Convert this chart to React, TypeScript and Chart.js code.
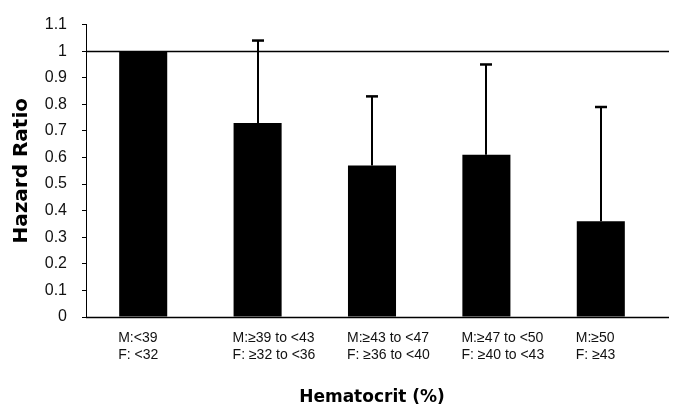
import React, { useEffect, useRef } from "react";
import { Chart, registerables } from "chart.js";

Chart.register(...registerables);

const maleLabels = ["M:<39", "M:≥39 to <43", "M:≥43 to <47", "M:≥47 to <50", "M:≥50"];
const femaleLabels = ["F: <32", "F: ≥32 to <36", "F: ≥36 to <40", "F: ≥40 to <43", "F: ≥43"];
const hazardRatios = [1.0, 0.73, 0.57, 0.61, 0.36];
const upperCI = [null, 1.04, 0.83, 0.95, 0.79];
const referenceValue = 1;
const yMin = 0;
const yMax = 1.1;
const yStep = 0.1;

const errorBarPlugin = {
  id: "errorBars",
  afterDatasetsDraw(chart: any) {
    const { ctx, chartArea } = chart;
    const y = chart.scales.y;
    const meta = chart.getDatasetMeta(0);
    ctx.save();
    ctx.strokeStyle = "#000";
    // reference line at HR = 1 and extended baseline
    ctx.lineWidth = 1.5;
    const yRef = Math.round(y.getPixelForValue(referenceValue)) + 0.5;
    ctx.beginPath();
    ctx.moveTo(chartArea.left, yRef);
    ctx.lineTo(chart.width - 8, yRef);
    ctx.stroke();
    const yBase = Math.round(y.getPixelForValue(yMin)) + 0.5;
    ctx.beginPath();
    ctx.moveTo(chartArea.left, yBase);
    ctx.lineTo(chart.width - 8, yBase);
    ctx.stroke();
    // error bars
    meta.data.forEach((bar: any, i: number) => {
      const up = upperCI[i];
      if (up == null) return;
      const x = Math.round(bar.x);
      const yTop = y.getPixelForValue(up);
      const yBar = y.getPixelForValue(hazardRatios[i]);
      ctx.lineWidth = 2;
      ctx.beginPath();
      ctx.moveTo(x, yBar);
      ctx.lineTo(x, yTop);
      ctx.stroke();
      ctx.lineWidth = 2.5;
      ctx.beginPath();
      ctx.moveTo(x - 6, yTop);
      ctx.lineTo(x + 6, yTop);
      ctx.stroke();
    });
    ctx.restore();
  },
};

export default function App() {
  const ref = useRef<HTMLCanvasElement | null>(null);

  useEffect(() => {
    document.body.style.margin = "0";
    const canvas = ref.current;
    if (!canvas) return;
    const labels = maleLabels.map((m, i) => [m, femaleLabels[i]]);
    const chart = new Chart(canvas, {
      type: "bar",
      data: {
        labels,
        datasets: [
          {
            data: hazardRatios,
            backgroundColor: "#000",
            borderWidth: 0,
            categoryPercentage: 1,
            barPercentage: 0.42,
          },
        ],
      },
      options: {
        responsive: false,
        animation: false,
        devicePixelRatio: 1,
        layout: { padding: { top: 23, right: 19, bottom: 0, left: 0 } },
        plugins: {
          legend: { display: false },
          tooltip: { enabled: false },
        },
        scales: {
          x: {
            grid: { display: false, drawTicks: false },
            border: { display: true, color: "#000", width: 1 },
            ticks: {
              autoSkip: false,
              maxRotation: 0,
              minRotation: 0,
              align: "start",
              labelOffset: -25,
              padding: 13,
              color: "#111",
              font: { family: "'Liberation Sans', Arial, sans-serif", size: 14, lineHeight: 1.2 },
            },
            title: {
              display: true,
              text: "Hematocrit (%)",
              color: "#000",
              font: { family: "'DejaVu Sans', sans-serif", size: 17, weight: "bold", lineHeight: 1 },
              padding: { top: 0, bottom: 2 },
            },
            afterFit: (scale: any) => {
              scale.height = 91;
            },
          },
          y: {
            min: yMin,
            max: yMax,
            grid: {
              display: true,
              drawOnChartArea: false,
              drawTicks: true,
              tickLength: 4,
              color: "#000",
            },
            border: { display: true, color: "#000", width: 1 },
            ticks: {
              stepSize: yStep,
              padding: 15,
              color: "#111",
              font: { family: "'Liberation Sans', Arial, sans-serif", size: 16 },
              callback: (v: any) => String(Number(Number(v).toFixed(1))),
            },
            title: {
              display: true,
              text: "Hazard Ratio",
              color: "#000",
              font: { family: "'DejaVu Sans', sans-serif", size: 20, weight: "bold", lineHeight: 1 },
              padding: { top: 12, bottom: 0 },
            },
            afterFit: (scale: any) => {
              scale.width = 86;
            },
          },
        },
      },
      plugins: [errorBarPlugin],
    });
    return () => chart.destroy();
  }, []);

  return <canvas ref={ref} width={677} height={408} style={{ display: "block" }} />;
}
